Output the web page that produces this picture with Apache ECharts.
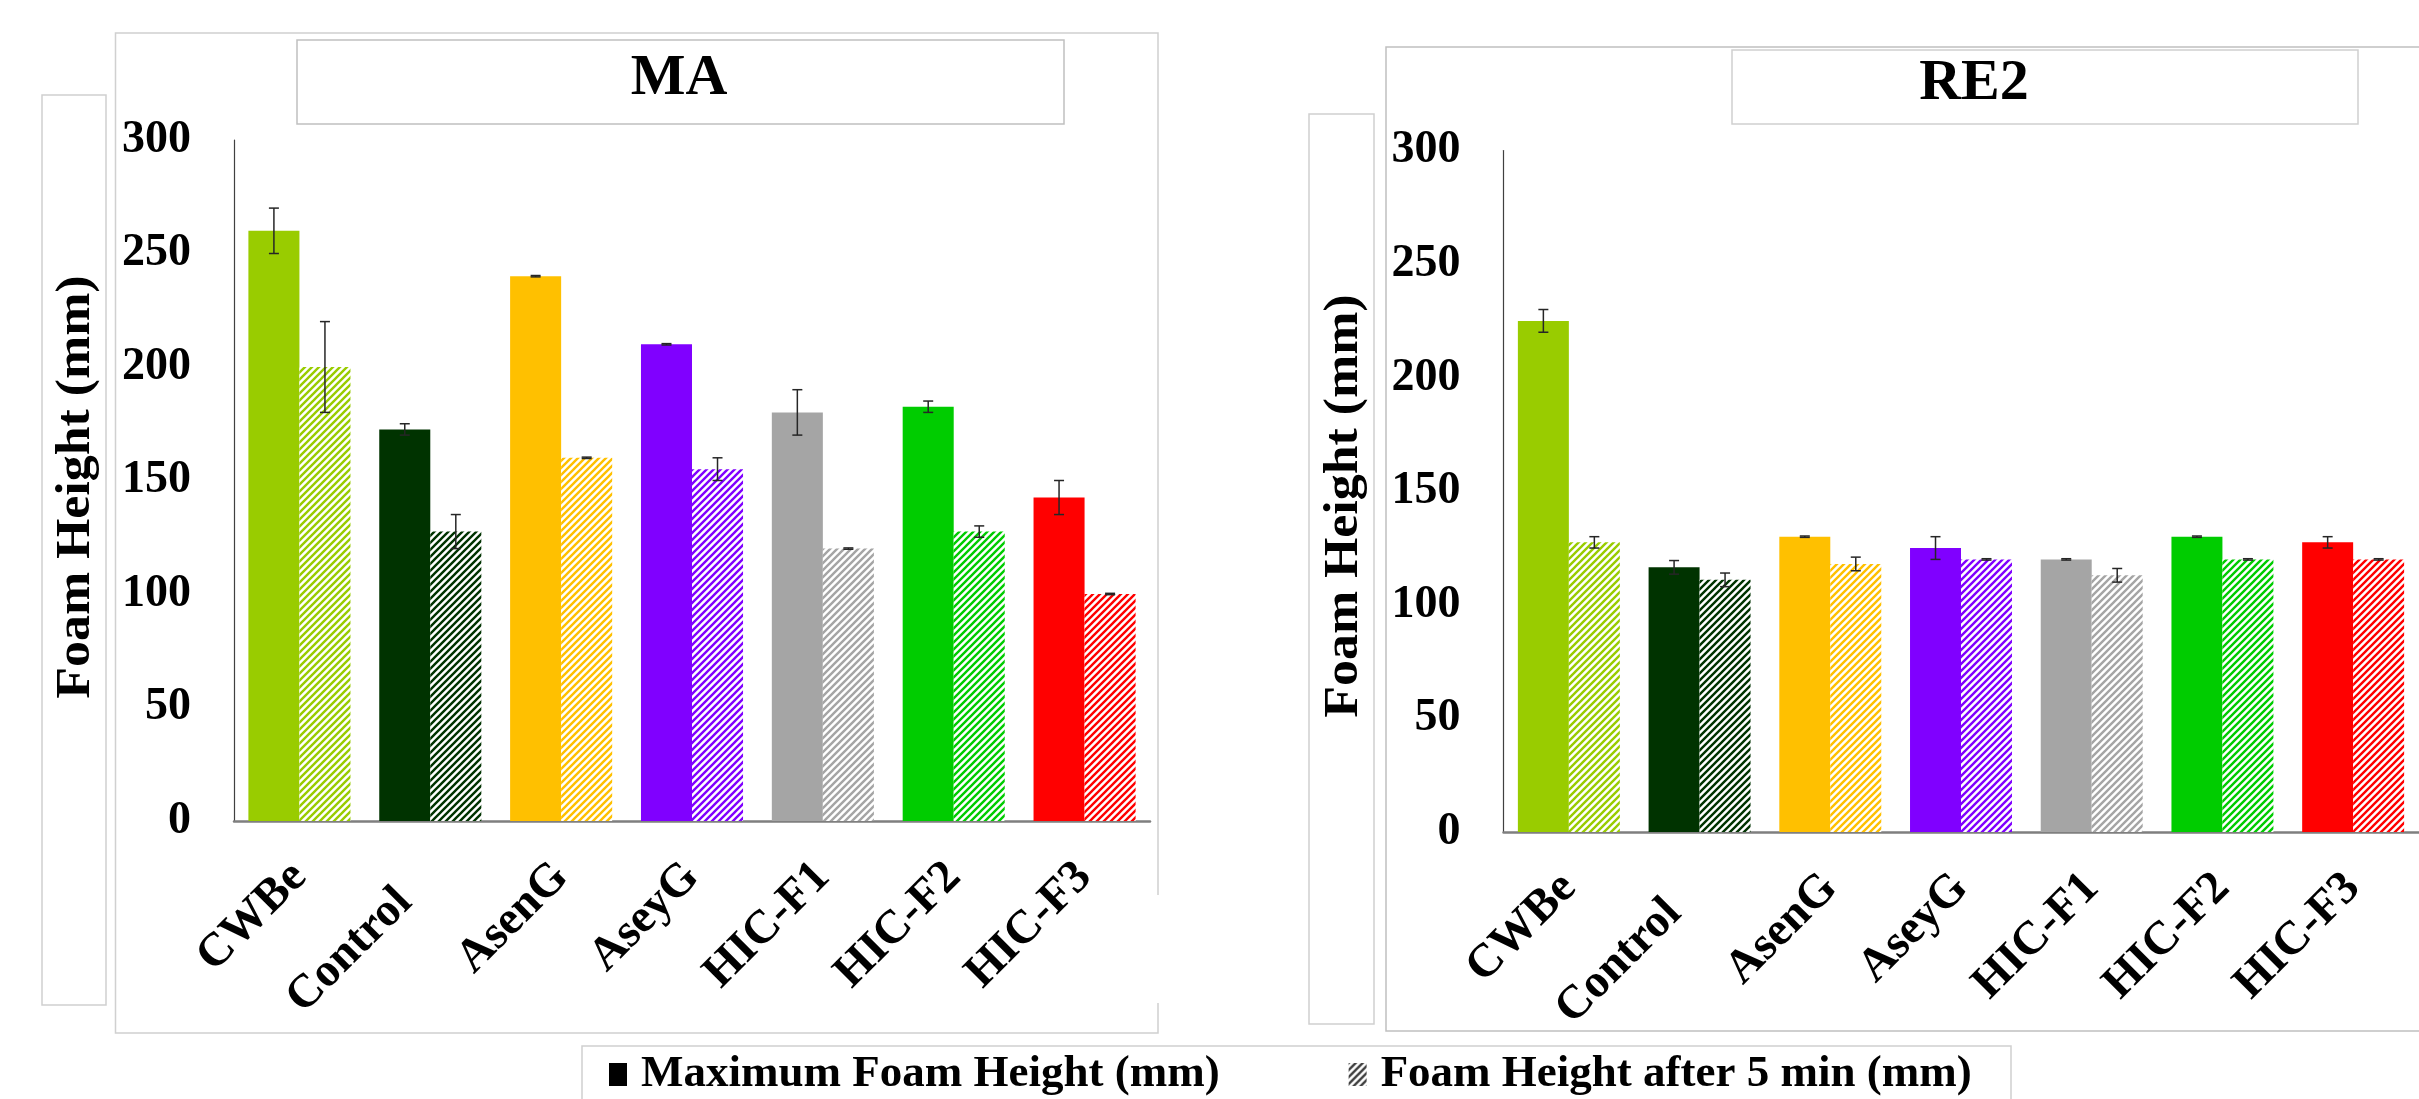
<!DOCTYPE html>
<html>
<head>
<meta charset="utf-8">
<script src="https://cdn.jsdelivr.net/npm/echarts@6/dist/echarts.min.js"></script>
<style>
html,body{margin:0;padding:0;background:#fff;}
#chart{width:2419px;height:1099px;}
</style>
</head>
<body>
<div id="chart"></div>
<script>
const categories = ['CWBe','Control','AsenG','AseyG','HIC-F1','HIC-F2','HIC-F3'];
const barColors = ['#99CC00','#003300','#FFC000','#8000FF','#A5A5A5','#00CC00','#FF0000'];
const yTicks = [0, 50, 100, 150, 200, 250, 300];

const maMax    = [260, 172.5, 240, 210, 180, 182.5, 142.5];
const maMaxErr = [10, 2.5, 0.3, 0.3, 10, 2.5, 7.5];
const ma5      = [200, 127.5, 160, 155, 120, 127.5, 100];
const ma5Err   = [20, 7.5, 0.3, 5, 0.3, 2.5, 0.3];

const re2Max    = [225, 116.5, 130, 125, 120, 130, 127.5];
const re2MaxErr = [5, 3, 0.3, 5, 0.3, 0.3, 2.5];
const re25      = [127.5, 111, 118, 120, 113, 120, 120];
const re25Err   = [2.5, 3, 3, 0.3, 3, 0.3, 0.3];

const panelTitles = ['MA', 'RE2'];
const yTitle = 'Foam Height (mm)';
const seriesNames = ['Maximum Foam Height (mm)', 'Foam Height after 5 min (mm)'];

const FONT = '"Liberation Serif", "Times New Roman", serif';

function hatch(color) {
  const s = 7;
  const c = document.createElement('canvas');
  c.width = s; c.height = s;
  const ctx = c.getContext('2d');
  ctx.fillStyle = '#ffffff';
  ctx.fillRect(0, 0, s, s);
  ctx.strokeStyle = color;
  ctx.lineWidth = 2.4;
  ctx.beginPath();
  ctx.moveTo(-1, s + 1); ctx.lineTo(s + 1, -1);
  ctx.moveTo(-s / 2 - 1, s / 2 + 1); ctx.lineTo(s / 2 + 1, -s / 2 - 1);
  ctx.moveTo(s / 2 - 1, s * 1.5 + 1); ctx.lineTo(s * 1.5 + 1, s / 2 - 1);
  ctx.stroke();
  return { image: c, repeat: 'repeat' };
}

const chart = echarts.init(document.getElementById('chart'), null, { renderer: 'canvas' });

const BAR_FRAC = 0.39;

function errRender(side) {
  return function (params, api) {
    const cat = api.value(0), v = api.value(1), e = api.value(2);
    const bw = api.size([1, 0])[0];
    const x = api.coord([cat, v])[0] + side * bw * BAR_FRAC / 2;
    const yTop = api.coord([cat, v + e])[1];
    const yBot = api.coord([cat, v - e])[1];
    const cap = 5;
    const st = { stroke: '#262626', lineWidth: 1.5 };
    return {
      type: 'group',
      children: [
        { type: 'line', shape: { x1: x, y1: yTop, x2: x, y2: yBot }, style: st },
        { type: 'line', shape: { x1: x - cap, y1: yTop, x2: x + cap, y2: yTop }, style: st },
        { type: 'line', shape: { x1: x - cap, y1: yBot, x2: x + cap, y2: yBot }, style: st }
      ]
    };
  };
}

// The "Control" label sits a little further back along its baseline in the original
function xAxisData() {
  return categories.map(c => c === 'Control'
    ? { value: c, textStyle: { padding: [0, 36, 0, 0] } }
    : c);
}

function xAxisCfg(gi) {
  return {
    type: 'category', gridIndex: gi, data: xAxisData(),
    axisLine: { show: true, lineStyle: { color: '#7f7f7f', width: 2.5 } },
    axisTick: { show: false },
    axisLabel: {
      interval: 0, rotate: 45, margin: 49,
      fontFamily: FONT, fontSize: 47, fontWeight: 'bold', color: '#000'
    }
  };
}
function yAxisCfg(gi) {
  return {
    type: 'value', gridIndex: gi, min: yTicks[0], max: yTicks[yTicks.length - 1], interval: 50,
    axisLine: { show: true, lineStyle: { color: '#404040', width: 1.2 } },
    axisTick: { show: false },
    splitLine: { show: false },
    axisLabel: { margin: 43, fontFamily: FONT, fontSize: 46, fontWeight: 'bold', color: '#000' }
  };
}

const panels = [
  { max: maMax, maxErr: maMaxErr, five: ma5, fiveErr: ma5Err },
  { max: re2Max, maxErr: re2MaxErr, five: re25, fiveErr: re25Err }
];

const series = [];
panels.forEach((p, gi) => {
  series.push({
    name: seriesNames[0], type: 'bar', xAxisIndex: gi, yAxisIndex: gi,
    barWidth: '39%', barGap: '0%',
    itemStyle: { color: '#000000' },
    data: p.max.map((v, i) => ({ value: v, itemStyle: { color: barColors[i] } }))
  });
  series.push({
    name: seriesNames[1], type: 'bar', xAxisIndex: gi, yAxisIndex: gi,
    barWidth: '39%', barGap: '0%',
    itemStyle: { color: hatch('#404040') },
    data: p.five.map((v, i) => ({ value: v, itemStyle: { color: hatch(barColors[i]) } }))
  });
  series.push({
    type: 'custom', xAxisIndex: gi, yAxisIndex: gi, silent: true, z: 10,
    encode: { x: 0, y: 1 }, renderItem: errRender(-1),
    data: p.max.map((v, i) => [i, v, p.maxErr[i]])
  });
  series.push({
    type: 'custom', xAxisIndex: gi, yAxisIndex: gi, silent: true, z: 10,
    encode: { x: 0, y: 1 }, renderItem: errRender(1),
    data: p.five.map((v, i) => [i, v, p.fiveErr[i]])
  });
});

const boxStyle = { fill: 'none', stroke: '#d0d0d0', lineWidth: 1.5 };
const graphic = [
  // left panel frame
  { type: 'rect', shape: { x: 115.5, y: 33, width: 1042.5, height: 1000 }, style: boxStyle, z: -10 },
  { type: 'rect', shape: { x: 1150, y: 895, width: 20, height: 108 }, style: { fill: '#fff' }, z: -9 },
  { type: 'rect', shape: { x: 297, y: 40, width: 767, height: 84 }, style: { fill: '#fff', stroke: '#c0c0c0', lineWidth: 1.5 }, z: -8 },
  { type: 'rect', shape: { x: 42, y: 95, width: 64, height: 910 }, style: boxStyle, z: -8 },
  // right panel frame
  { type: 'rect', shape: { x: 1386, y: 47, width: 1100, height: 984 }, style: { fill: 'none', stroke: '#c0c0c0', lineWidth: 1.5 }, z: -10 },
  { type: 'rect', shape: { x: 1732, y: 50, width: 626, height: 74 }, style: { fill: '#fff', stroke: '#d0d0d0', lineWidth: 1.5 }, z: -8 },
  { type: 'rect', shape: { x: 1309, y: 114, width: 65, height: 910 }, style: boxStyle, z: -8 },
  // legend frame
  { type: 'rect', shape: { x: 582, y: 1046, width: 1429, height: 80 }, style: boxStyle, z: -8 },
  // titles
  { type: 'text', x: 679, y: 79, style: { text: panelTitles[0], font: 'bold 58px ' + FONT, fill: '#000', textAlign: 'center', textVerticalAlign: 'middle' }, z: 5 },
  { type: 'text', x: 1974, y: 84, style: { text: panelTitles[1], font: 'bold 58px ' + FONT, fill: '#000', textAlign: 'center', textVerticalAlign: 'middle' }, z: 5 },
  // y axis titles
  { type: 'text', x: 77, y: 487, rotation: Math.PI / 2, scaleX: 1.08, style: { text: yTitle, font: 'bold 48px ' + FONT, fill: '#000', textAlign: 'center', textVerticalAlign: 'middle' }, z: 5 },
  { type: 'text', x: 1345, y: 506, rotation: Math.PI / 2, scaleX: 1.08, style: { text: yTitle, font: 'bold 48px ' + FONT, fill: '#000', textAlign: 'center', textVerticalAlign: 'middle' }, z: 5 }
];

chart.setOption({
  animation: false,
  backgroundColor: '#fff',
  grid: [
    { left: 234, top: 140, width: 916, height: 681 },
    { left: 1503.5, top: 150.5, width: 915, height: 681.5 }
  ],
  xAxis: [xAxisCfg(0), xAxisCfg(1)],
  yAxis: [yAxisCfg(0), yAxisCfg(1)],
  legend: {
    data: seriesNames, left: 609, top: 1052, padding: 0,
    icon: 'rect', itemWidth: 18, itemHeight: 23, itemGap: 129,
    selectedMode: false,
    textStyle: { fontFamily: FONT, fontSize: 45, fontWeight: 'bold', color: '#000', padding: [0, 0, 0, 9] }
  },
  graphic: graphic,
  series: series
});
</script>
</body>
</html>
